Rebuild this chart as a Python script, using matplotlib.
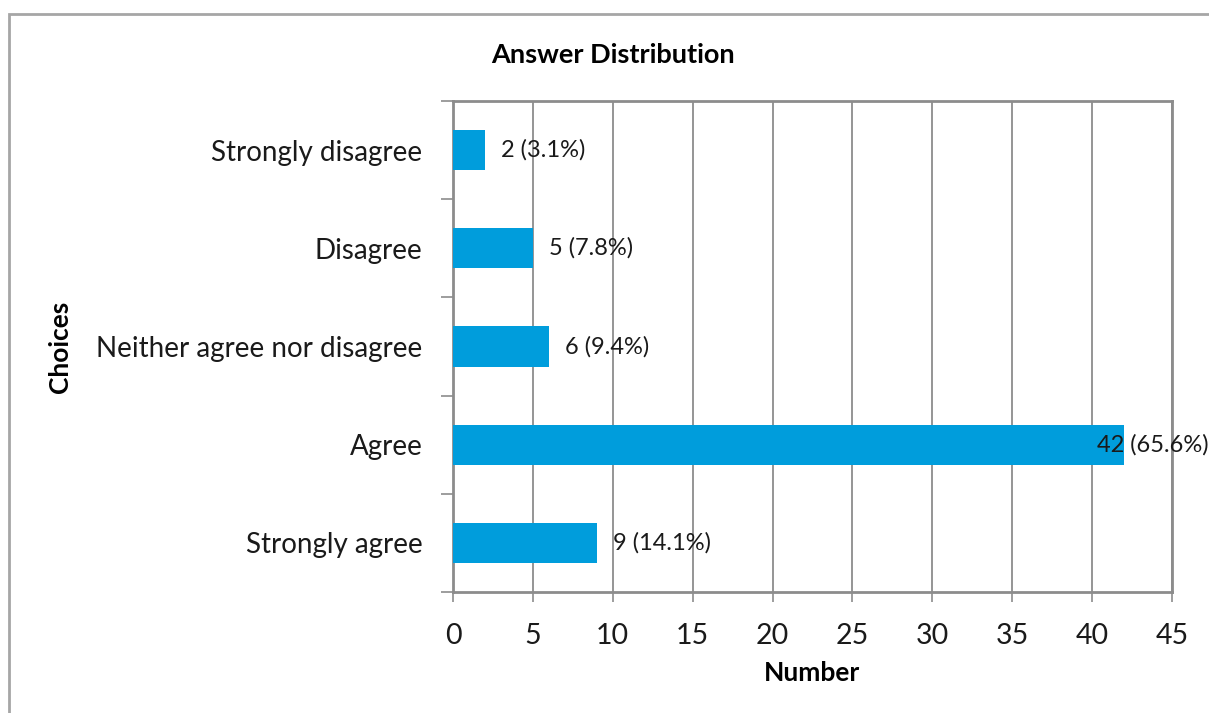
import matplotlib.pyplot as plt
from matplotlib.patches import Rectangle

# data (bottom to top)
choices = ['Strongly agree', 'Agree', 'Neither agree nor disagree', 'Disagree', 'Strongly disagree']
counts = [9, 42, 6, 5, 2]
percents = [14.1, 65.6, 9.4, 7.8, 3.1]
x_ticks = [0, 5, 10, 15, 20, 25, 30, 35, 40, 45]

plt.rcParams['font.family'] = ['Lato', 'DejaVu Sans']

W, H = 1209, 713
fig = plt.figure(figsize=(W / 100, H / 100), dpi=100)

# light outer frame of the chart area
fig.add_artist(Rectangle((9 / W, -0.1), 1.2, 1.1 - 14 / H, transform=fig.transFigure,
                         fill=False, edgecolor='#a6a6a6', linewidth=2))

ax = fig.add_axes([453 / W, 121 / H, 719 / W, 491 / H])

grey = '#8c8c8c'
ypos = list(range(len(choices)))
ax.barh(ypos, counts, height=0.41, color='#009ddc', zorder=3)

ax.set_xlim(0, 45)
ax.set_ylim(-0.5, len(choices) - 0.5)
ax.set_xticks(x_ticks)
ax.set_xticklabels([str(t) for t in x_ticks], fontsize=20.5, color='#1a1a1a')
ax.set_yticks(ypos)
ax.set_yticklabels(choices, fontsize=20, color='#1a1a1a')
ax.tick_params(axis='y', length=0, pad=22)
ax.tick_params(axis='x', length=7, width=1.2, color=grey, pad=15)

# y ticks sit on category boundaries
ax.set_yticks([i - 0.5 for i in range(len(choices) + 1)], minor=True)
ax.tick_params(axis='y', which='minor', length=9, width=1.2, color=grey)

ax.grid(axis='x', color=grey, linewidth=1.3, zorder=0)
for s in ax.spines.values():
    s.set_color(grey)
    s.set_linewidth(2)

# value labels
for y, c, p in zip(ypos, counts, percents):
    off = 11.5 if c < max(counts) else -19.5
    ax.annotate(f'{c} ({p}%)', xy=(c, y), xytext=(off, 0), textcoords='offset points',
                ha='left', va='center', fontsize=17, color='#1a1a1a', zorder=4)

ax.set_title('Answer Distribution', fontsize=19.5, fontweight='bold',
             x=0.2225, y=1.094, pad=0, va='center')
ax.set_xlabel('Number', fontsize=19, fontweight='bold')
ax.xaxis.set_label_coords(0.5, -0.141)
ax.set_ylabel('Choices', fontsize=19, fontweight='bold')
ax.yaxis.set_label_coords(-0.530, 0.5)

fig.savefig('out.png', dpi=100)
